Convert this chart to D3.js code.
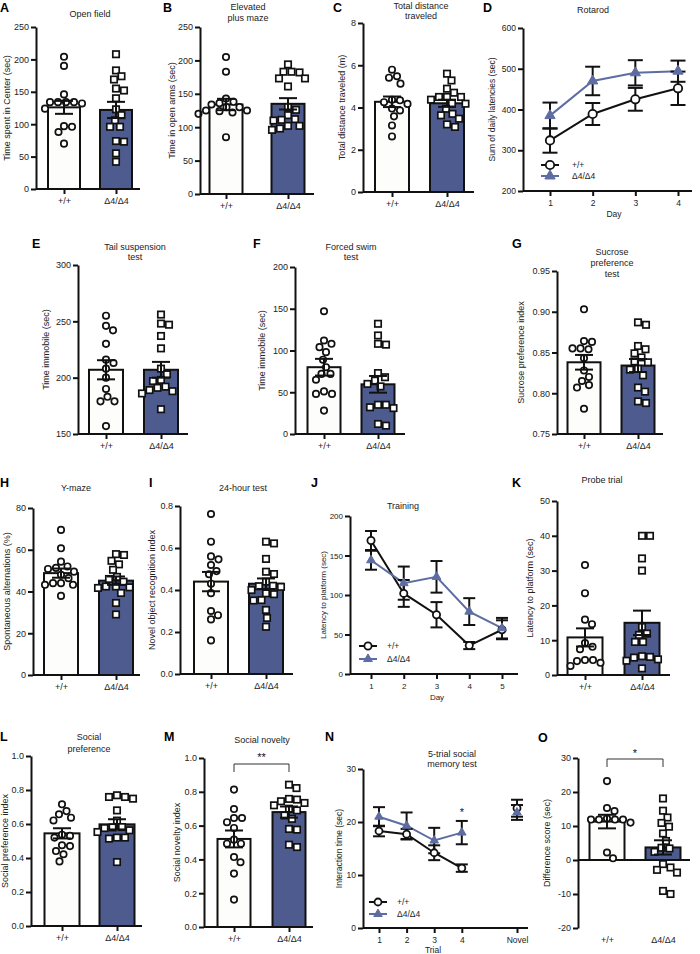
<!DOCTYPE html>
<html><head><meta charset="utf-8">
<script src="https://cdn.jsdelivr.net/npm/d3@7"></script>
<style>
body{margin:0;background:#fff;}
svg text{font-family:"Liberation Sans", Arial, Helvetica, sans-serif;}
</style></head><body>
<svg id="c" width="700" height="954"></svg>
<script>
// ---------- DATA ----------
const groups = ["+/+", "Δ4/Δ4"];

// A Open field
const openWT = [204, 190, 146, 134, 134, 134, 134, 132, 124, 97, 96, 88, 70];
const openKO = [208, 183, 174, 169, 155, 152, 140, 123, 114, 106, 96, 96, 74, 73, 55, 42];
const openMean = [126, 122];
const openSem = [10, 12.5];
// B Elevated plus maze
const epmWT = [205, 183, 143, 138, 136, 134, 130, 130, 125, 125, 124, 122, 120, 85];
const epmKO = [194, 183, 183, 182, 173, 173, 161, 130, 126, 118, 112, 111, 110, 102, 102, 98, 96];
const epmMean = [134, 135];
const epmSem = [8.5, 8.5];
// C Total distance
const distWT = [5.79, 5.48, 5.41, 5.13, 4.37, 4.34, 4.25, 4.17, 3.95, 3.86, 3.58, 3.15, 2.63];
const distKO = [5.6, 5.28, 4.89, 4.7, 4.5, 4.5, 4.5, 4.37, 4.2, 4.18, 3.94, 3.7, 3.63, 3.47, 3.2, 3.08];
const distMean = [4.27, 4.2];
const distSem = [0.25, 0.17];
// D Rotarod
const rotDays = [1, 2, 3, 4];
const rotWT = [324, 389, 425, 452];
const rotWTsem = [30, 27, 28, 41];
const rotKO = [385, 470, 490, 494];
const rotKOsem = [32, 35, 31, 26];
// E Tail suspension
const tailWT = [255, 246, 242, 230, 216, 213, 208, 200, 190, 183, 179, 179, 157];
const tailKO = [256, 248, 247, 237, 226, 208, 203, 198, 197, 192, 191, 189, 188, 186, 172];
const tailMean = [207, 207];
const tailSem = [8.5, 7];
// F Forced swim
const swimWT = [147, 112, 108, 104, 98, 89, 80, 72, 72, 65, 51, 48, 48, 28];
const swimKO = [132, 118, 108, 107, 73, 68, 64, 60, 57, 35, 35, 32, 31, 12, 10];
const swimMean = [80, 59.5];
const swimSem = [10, 10];
// G Sucrose preference
const sucWT = [0.903, 0.864, 0.863, 0.855, 0.855, 0.854, 0.843, 0.828, 0.820, 0.815, 0.810, 0.807, 0.781];
const sucKO = [0.887, 0.884, 0.858, 0.854, 0.849, 0.844, 0.839, 0.838, 0.830, 0.829, 0.822, 0.807, 0.802, 0.790, 0.788];
const sucMean = [0.838, 0.834];
const sucSem = [0.009, 0.008];
// H Y-maze
const ymazeWT = [69.5, 60.7, 54.3, 52, 51.3, 50.8, 49.5, 48, 46.4, 44, 44, 43.2, 43.2, 37.9];
const ymazeKO = [57.9, 57.5, 54.7, 53, 50.4, 47, 46, 44.7, 42.4, 42.4, 42, 41.7, 39.3, 34.5, 29];
const ymazeMean = [48.8, 45.2];
const ymazeSem = [2.2, 2.0];
// I Novel object recognition
const norWT = [0.762, 0.63, 0.56, 0.546, 0.519, 0.49, 0.475, 0.43, 0.385, 0.30, 0.28, 0.26, 0.16];
const norKO = [0.63, 0.622, 0.548, 0.487, 0.476, 0.44, 0.42, 0.418, 0.415, 0.40, 0.384, 0.38, 0.352, 0.35, 0.305, 0.267, 0.225];
const norMean = [0.44, 0.43];
const norSem = [0.046, 0.025];
// J Training
const trainDays = [1, 2, 3, 4, 5];
const trainWT = [169, 102, 75, 36, 56];
const trainWTsem = [12, 17, 16, 4.5, 12];
const trainKO = [144, 115, 123, 79, 58];
const trainKOsem = [12, 21, 20, 17, 13];
// K Probe trial
const probeWT = [31.6, 23.5, 15.9, 14.6, 9.2, 8.1, 7.4, 4.3, 4.3, 4.0, 3.5, 2.6];
const probeKO = [40, 40, 33.5, 30, 13.8, 11.9, 11.5, 9.5, 9.5, 5.4, 5.2, 5, 4.5, 4.1, 1.9];
const probeMean = [10.8, 15];
const probeSem = [2.6, 3.5];
// L Social preference
const prefWT = [0.716, 0.676, 0.657, 0.637, 0.621, 0.537, 0.53, 0.52, 0.475, 0.47, 0.441, 0.422, 0.38];
const prefKO = [0.769, 0.759, 0.759, 0.749, 0.68, 0.62, 0.582, 0.58, 0.576, 0.563, 0.553, 0.52, 0.52, 0.514, 0.376];
const prefMean = [0.545, 0.598];
const prefSem = [0.03, 0.03];
// M Social novelty
const novWT = [0.813, 0.698, 0.645, 0.645, 0.62, 0.586, 0.517, 0.493, 0.493, 0.414, 0.383, 0.316, 0.162];
const novKO = [0.842, 0.822, 0.758, 0.754, 0.744, 0.734, 0.72, 0.70, 0.69, 0.66, 0.64, 0.58, 0.576, 0.487, 0.473];
const novMean = [0.521, 0.68];
const novSem = [0.05, 0.033];
// N 5-trial social memory
const trialLabels = ["1", "2", "3", "4", "Novel"];
const trialPos = [1, 2, 3, 4, 6];
const memWT = [18.3, 17.7, 14.2, 11.3];
const memWTsem = [1.0, 1.0, 1.4, 0.7];
const memKO = [21, 19.3, 16.5, 18];
const memKOsem = [1.8, 2.5, 2.4, 2.2];
const memNovelWT = [22.6];
const memNovelWTsem = [1.6];
const memNovelKO = [21.8];
const memNovelKOsem = [1.4];
// O Difference score
const diffWT = [23.2, 15.3, 14.4, 12.2, 11.9, 11.9, 11.9, 11.9, 11.0, 2.2, 0.5];
const diffKO = [18.1, 14.5, 12.5, 10.9, 9.8, 7.8, 5.6, 3.6, 3.4, 2.4, -1.2, -2.2, -2.9, -3.7, -9.1, -10];
const diffMean = [11.3, 3.7];
const diffSem = [2.0, 2.1];

// ---------- DRAWING ----------
const svg = d3.select("#c");
const FONT = '"Liberation Sans", Arial, Helvetica, sans-serif';
const BLUE = "#4d5b8f", LBLUE = "#5e6da1", INK = "#111", TXT = "#222", WHITE = "#fdfdfb";

function addText(x, y, s, o = {}) {
  return svg.append("text").attr("x", x).attr("y", y)
    .attr("text-anchor", o.anchor || "middle")
    .attr("font-size", o.size || 9)
    .attr("font-weight", o.weight || "normal")
    .attr("fill", o.fill || TXT).text(s);
}
function styleAxis(ax, fs) {
  ax.attr("font-family", FONT).attr("font-size", fs || 9);
  ax.selectAll("path.domain").attr("stroke", INK).attr("stroke-width", 2);
  ax.selectAll(".tick line").attr("stroke", INK).attr("stroke-width", 2);
  ax.selectAll(".tick text").attr("fill", TXT);
}
function decorate(p) {
  addText(p.letter[1], p.letter[2], p.letter[0], {anchor: "start", size: 12.5, weight: "bold", fill: "#000"});
  p.title.forEach((t, i) => addText(p.titleX, p.titleY[i], t));
  svg.append("text")
    .attr("transform", `translate(${p.ylabX},${(p.top + p.bottom) / 2}) rotate(-90)`)
    .attr("text-anchor", "middle").attr("dy", "0.35em")
    .attr("font-size", p.ylabSize || 9).attr("fill", TXT).text(p.ylab);
}
function errbar(g, cx, y1, y2, w) {
  const l = (x1, yy1, x2, yy2) => g.append("line")
    .attr("x1", x1).attr("y1", yy1).attr("x2", x2).attr("y2", yy2)
    .attr("stroke", INK).attr("stroke-width", 2);
  l(cx, y1, cx, y2);
  l(cx - w / 2, y1, cx + w / 2, y1);
  l(cx - w / 2, y2, cx + w / 2, y2);
}
function swarm(vals, y, cx, dist) {
  const pts = vals.map(v => ({v, y: y(v)})).sort((a, b) => a.y - b.y);
  const placed = [];
  for (const p of pts) {
    p.x = cx;
    for (let k = 0; k < 600; k++) {
      const off = (k % 2 ? 1 : -1) * Math.ceil(k / 2) * 0.5;
      const xx = cx + off;
      if (placed.every(q => (q.x - xx) ** 2 + (q.y - p.y) ** 2 >= dist * dist)) { p.x = xx; break; }
    }
    placed.push(p);
  }
  return placed;
}
function fmtPlain(f) { return d => f(d).replace("−", "-"); }

function barPanel(p) {
  const g = svg.append("g");
  const y = d3.scaleLinear().domain(p.domain).range([p.bottom, p.top]);
  const x = d3.scalePoint().domain(groups).range(p.centers);
  const base = p.base !== undefined ? p.base : p.domain[0];
  g.selectAll("rect.bar").data(groups).join("rect")
    .attr("x", d => x(d) - p.bw / 2 + 1).attr("width", p.bw - 2)
    .attr("y", (d, i) => Math.min(y(p.mean[i]), y(base)))
    .attr("height", (d, i) => Math.abs(y(p.mean[i]) - y(base)))
    .attr("fill", (d, i) => i ? BLUE : WHITE).attr("stroke", INK).attr("stroke-width", 2);
  g.append("line").attr("x1", p.left).attr("x2", p.right)
    .attr("y1", y(base)).attr("y2", y(base)).attr("stroke", INK).attr("stroke-width", 2);
  const wt = swarm(p.wt, y, x(groups[0]), 8);
  g.selectAll("circle.pt").data(wt).join("circle")
    .attr("cx", d => d.x).attr("cy", d => d.y).attr("r", 3.2)
    .attr("fill", "#fff").attr("stroke", INK).attr("stroke-width", 1.7);
  const ko = swarm(p.ko, y, x(groups[1]), 8);
  g.selectAll("rect.pt").data(ko).join("rect")
    .attr("x", d => d.x - 3.2).attr("y", d => d.y - 3.2).attr("width", 6.4).attr("height", 6.4)
    .attr("fill", "#fff").attr("stroke", INK).attr("stroke-width", 1.7);
  groups.forEach((d, i) => errbar(g, x(d), y(p.mean[i] - p.sem[i]), y(p.mean[i] + p.sem[i]), 18));
  const ya = g.append("g").attr("transform", `translate(${p.left},0)`)
    .call(d3.axisLeft(y).tickValues(p.ticks).tickFormat(fmtPlain(d3.format(p.fmt || "d")))
      .tickSize(5).tickSizeOuter(0).tickPadding(2));
  styleAxis(ya);
  const xa = g.append("g")
    .attr("transform", `translate(0,${p.labelsAtBottom ? p.bottom : y(base)})`)
    .call(d3.axisBottom(x).tickSize(p.labelsAtBottom ? 0 : 5).tickPadding(p.labelsAtBottom ? 9 : 4));
  xa.select(".domain").remove();
  styleAxis(xa);
  decorate(p);
  return {x, y};
}

function marker(g, type, cx, cy, size, color) {
  if (type === "circle") {
    g.append("circle").attr("cx", cx).attr("cy", cy).attr("r", size)
      .attr("fill", "#fff").attr("stroke", INK).attr("stroke-width", 1.8);
  } else {
    g.append("path").attr("transform", `translate(${cx},${cy})`)
      .attr("d", d3.symbol(d3.symbolTriangle, size * size * 2.6)())
      .attr("fill", color).attr("stroke", color).attr("stroke-width", 1);
  }
}

function linePanel(p) {
  const g = svg.append("g");
  const fs = p.fs || 9;
  const y = d3.scaleLinear().domain(p.domain).range([p.bottom, p.top]);
  const x = d3.scaleLinear().domain(p.xDomain).range(p.xRange);
  g.append("line").attr("x1", p.left).attr("x2", p.right)
    .attr("y1", p.bottom).attr("y2", p.bottom).attr("stroke", INK).attr("stroke-width", 2);
  const ya = g.append("g").attr("transform", `translate(${p.left},0)`)
    .call(d3.axisLeft(y).tickValues(p.ticks).tickFormat(d3.format("d")).tickSize(5).tickSizeOuter(0).tickPadding(2));
  styleAxis(ya, fs);
  const xa = g.append("g").attr("transform", `translate(0,${p.bottom})`)
    .call(d3.axisBottom(x).tickValues(p.xTicks).tickFormat((d, i) => p.xLabels[i]).tickSize(5).tickPadding(4));
  xa.select(".domain").remove();
  styleAxis(xa, fs);
  p.series.forEach(s => {
    if (!s.line) return;
    g.append("path").datum(s.xs.map((xv, i) => [xv, s.vals[i]]))
      .attr("d", d3.line().x(d => x(d[0])).y(d => y(d[1])))
      .attr("fill", "none").attr("stroke", s.color).attr("stroke-width", 2);
  });
  p.series.forEach(s => s.xs.forEach((xv, i) =>
    errbar(g, x(xv), y(s.vals[i] - s.err[i]), y(s.vals[i] + s.err[i]), p.cap)));
  p.series.forEach(s => s.xs.forEach((xv, i) =>
    marker(g, s.type, x(xv), y(s.vals[i]), p.ms, s.color)));
  addText(p.xTitleX, p.xTitleY, p.xTitle, {size: fs});
  if (p.legend) {
    const L = p.legend;
    [["circle", INK, groups[0]], ["triangle", LBLUE, groups[1]]].forEach(([t, c, lab], i) => {
      const yy = L.ys[i];
      g.append("line").attr("x1", L.x0).attr("x2", L.x1).attr("y1", yy).attr("y2", yy)
        .attr("stroke", c).attr("stroke-width", 2);
      marker(g, t, (L.x0 + L.x1) / 2, yy, p.ms, c);
      addText(L.tx, yy + 3, lab, {anchor: "start", size: 8.5});
    });
  }
  decorate(p);
  return {x, y};
}

function bracket(x1, x2, yTop, yLow, star, starY) {
  svg.append("path").attr("d", `M${x1},${yLow}V${yTop}H${x2}V${yLow}`)
    .attr("fill", "none").attr("stroke", "#333").attr("stroke-width", 1);
  addText((x1 + x2) / 2, starY, star, {size: 11, fill: "#111"});
}

const r50 = d3.range(0, 251, 50);

// Row 1
barPanel({letter: ["A", 0, 12], title: ["Open field"], titleX: 90, titleY: [17],
  ylab: "Time spent in Center (sec)", ylabX: 7,
  left: 36, right: 140, top: 27, bottom: 189, domain: [0, 250], ticks: r50,
  centers: [64, 116], bw: 34, wt: openWT, ko: openKO, mean: openMean, sem: openSem});
barPanel({letter: ["B", 163, 12], title: ["Elevated", "plus maze"], titleX: 248, titleY: [10, 21],
  ylab: "Time in open arms (sec)", ylabX: 172,
  left: 200, right: 314, top: 27, bottom: 194, domain: [0, 250], ticks: r50,
  centers: [226, 288], bw: 35, wt: epmWT, ko: epmKO, mean: epmMean, sem: epmSem});
barPanel({letter: ["C", 333, 12], title: ["Total distance", "traveled"], titleX: 421, titleY: [9, 19],
  ylab: "Total distance traveled (m)", ylabX: 342,
  left: 363, right: 474, top: 23, bottom: 192, domain: [0, 8], ticks: [0, 2, 4, 6, 8],
  centers: [392, 447], bw: 36, wt: distWT, ko: distKO, mean: distMean, sem: distSem});
linePanel({letter: ["D", 483, 12], title: ["Rotarod"], titleX: 593, titleY: [13],
  ylab: "Sum of daily latencies (sec)", ylabX: 492, ylabSize: 8.5, fs: 8.5,
  left: 523, right: 692, top: 28, bottom: 191, domain: [200, 600], ticks: [200, 300, 400, 500, 600],
  xDomain: [1, 4], xRange: [550, 678], xTicks: rotDays, xLabels: rotDays.map(String),
  xTitle: "Day", xTitleX: 614, xTitleY: 217, cap: 15, ms: 4.2,
  series: [
    {xs: rotDays, vals: rotWT, err: rotWTsem, type: "circle", color: INK, line: true},
    {xs: rotDays, vals: rotKO, err: rotKOsem, type: "triangle", color: LBLUE, line: true}],
  legend: {x0: 541, x1: 559, ys: [165, 176], tx: 572}});

// Row 2
barPanel({letter: ["E", 32, 248], title: ["Tail suspension", "test"], titleX: 135, titleY: [250, 260],
  ylab: "Time immobile (sec)", ylabX: 46,
  left: 78, right: 188, top: 265, bottom: 434, domain: [150, 300], ticks: [150, 200, 250, 300],
  centers: [106, 161], bw: 36, wt: tailWT, ko: tailKO, mean: tailMean, sem: tailSem});
barPanel({letter: ["F", 253, 248], title: ["Forced swim", "test"], titleX: 351, titleY: [250, 260],
  ylab: "Time immobile (sec)", ylabX: 262,
  left: 295, right: 405, top: 267, bottom: 434, domain: [0, 200], ticks: [0, 50, 100, 150, 200],
  centers: [324, 378], bw: 35, wt: swimWT, ko: swimKO, mean: swimMean, sem: swimSem});
barPanel({letter: ["G", 512, 248], title: ["Sucrose", "preference", "test"], titleX: 612, titleY: [255, 266, 277],
  ylab: "Sucrose preference index", ylabX: 521,
  left: 557, right: 663, top: 271, bottom: 434, domain: [0.75, 0.95], ticks: [0.75, 0.80, 0.85, 0.90, 0.95], fmt: ".2f",
  centers: [584, 638], bw: 35, wt: sucWT, ko: sucKO, mean: sucMean, sem: sucSem});

// Row 3
barPanel({letter: ["H", 0, 487], title: ["Y-maze"], titleX: 76, titleY: [491],
  ylab: "Spontaneous alternations (%)", ylabX: 7,
  left: 33, right: 140, top: 508, bottom: 675, domain: [0, 80], ticks: [0, 20, 40, 60, 80],
  centers: [61, 116], bw: 36, wt: ymazeWT, ko: ymazeKO, mean: ymazeMean, sem: ymazeSem});
barPanel({letter: ["I", 149, 487], title: ["24-hour test"], titleX: 243, titleY: [491],
  ylab: "Novel object recognition index", ylabX: 152,
  left: 180, right: 293, top: 506, bottom: 674, domain: [0, 0.8], ticks: [0, 0.2, 0.4, 0.6, 0.8], fmt: ".1f",
  centers: [211, 266], bw: 36, wt: norWT, ko: norKO, mean: norMean, sem: norSem});
linePanel({letter: ["J", 311, 487], title: ["Training"], titleX: 403, titleY: [509],
  ylab: "Latency to platform (sec)", ylabX: 323, ylabSize: 8, fs: 8,
  left: 350, right: 518, top: 516, bottom: 674, domain: [0, 200], ticks: [0, 50, 100, 150, 200],
  xDomain: [1, 5], xRange: [371, 502], xTicks: trainDays, xLabels: trainDays.map(String),
  xTitle: "Day", xTitleX: 437, xTitleY: 700, cap: 12, ms: 3.6,
  series: [
    {xs: trainDays, vals: trainWT, err: trainWTsem, type: "circle", color: INK, line: true},
    {xs: trainDays, vals: trainKO, err: trainKOsem, type: "triangle", color: LBLUE, line: true}],
  legend: {x0: 359, x1: 377, ys: [646, 659], tx: 387}});
barPanel({letter: ["K", 512, 487], title: ["Probe trial"], titleX: 602, titleY: [483],
  ylab: "Latency to platform (sec)", ylabX: 530,
  left: 557, right: 670, top: 501, bottom: 675, domain: [0, 50], ticks: [0, 10, 20, 30, 40, 50],
  centers: [585, 642], bw: 37, wt: probeWT, ko: probeKO, mean: probeMean, sem: probeSem});

// Row 4
barPanel({letter: ["L", 0, 741], title: ["Social", "preference"], titleX: 89, titleY: [740, 752],
  ylab: "Social preference index", ylabX: 5,
  left: 31, right: 142, top: 756, bottom: 926, domain: [0, 1], ticks: [0, 0.2, 0.4, 0.6, 0.8, 1.0], fmt: ".1f",
  centers: [62, 117], bw: 37, wt: prefWT, ko: prefKO, mean: prefMean, sem: prefSem});
const m = barPanel({letter: ["M", 164, 741], title: ["Social novelty"], titleX: 262, titleY: [743],
  ylab: "Social novelty index", ylabX: 177,
  left: 204, right: 313, top: 758, bottom: 927, domain: [0, 1], ticks: [0, 0.2, 0.4, 0.6, 0.8, 1.0], fmt: ".1f",
  centers: [234, 289], bw: 35, wt: novWT, ko: novKO, mean: novMean, sem: novSem});
bracket(m.x(groups[0]), m.x(groups[1]), 764, 772, "**", 761);
const n = linePanel({letter: ["N", 325, 741], title: ["5-trial social", "memory test"], titleX: 452, titleY: [757, 767],
  ylab: "Interaction time (sec)", ylabX: 339, ylabSize: 8.5, fs: 8.5,
  left: 363, right: 528, top: 769, bottom: 928, domain: [0, 30], ticks: [0, 10, 20, 30],
  xDomain: [1, 6], xRange: [379, 517], xTicks: trialPos, xLabels: trialLabels,
  xTitle: "Trial", xTitleX: 433, xTitleY: 953, cap: 12, ms: 3.5,
  series: [
    {xs: trialPos.slice(0, 4), vals: memWT, err: memWTsem, type: "circle", color: INK, line: true},
    {xs: trialPos.slice(0, 4), vals: memKO, err: memKOsem, type: "triangle", color: LBLUE, line: true},
    {xs: trialPos.slice(4), vals: memNovelWT, err: memNovelWTsem, type: "circle", color: INK, line: false},
    {xs: trialPos.slice(4), vals: memNovelKO, err: memNovelKOsem, type: "triangle", color: LBLUE, line: false}],
  legend: {x0: 369, x1: 387, ys: [902, 914], tx: 397}});
addText(n.x(trialPos[3]), n.y(memKO[3] + memKOsem[3]) - 5, "*", {size: 11, fill: "#111"});
const o = barPanel({letter: ["O", 538, 742], title: [], titleX: 0, titleY: [],
  ylab: "Difference score (sec)", ylabX: 547,
  left: 578, right: 690, top: 758, bottom: 928, domain: [-20, 30], ticks: [-20, -10, 0, 10, 20, 30], base: 0,
  labelsAtBottom: true,
  centers: [607, 663], bw: 37, wt: diffWT, ko: diffKO, mean: diffMean, sem: diffSem});
bracket(o.x(groups[0]), o.x(groups[1]), 759, 767, "*", 757);
</script>
</body></html>
